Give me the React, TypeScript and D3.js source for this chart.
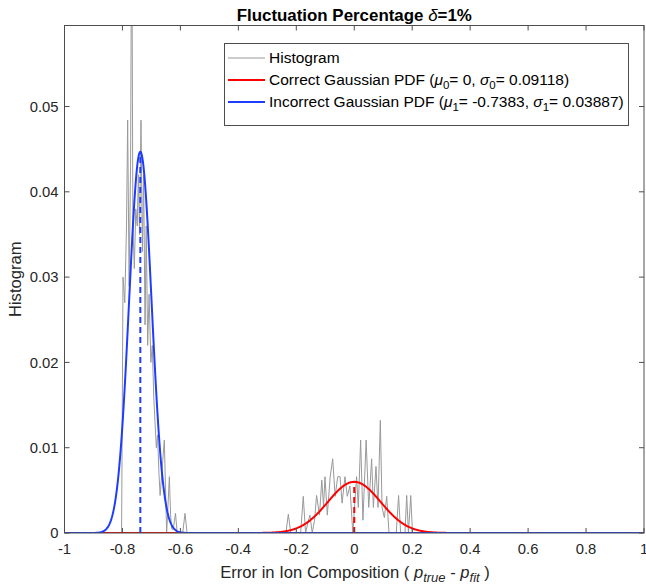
import React from 'react';
import * as d3 from 'd3';

// ---- data ----
const X_TICKS = [-1, -0.8, -0.6, -0.4, -0.2, 0, 0.2, 0.4, 0.6, 0.8, 1];
const X_TICK_LABELS = ['-1', '-0.8', '-0.6', '-0.4', '-0.2', '0', '0.2', '0.4', '0.6', '0.8', '1'];
const Y_TICKS = [0, 0.01, 0.02, 0.03, 0.04, 0.05];
const Y_TICK_LABELS = ['0', '0.01', '0.02', '0.03', '0.04', '0.05'];

const histX = [
  -1, -0.803, -0.798, -0.792, -0.786, -0.782, -0.777, -0.772, -0.768, -0.764,
  -0.759, -0.754, -0.749, -0.745, -0.741, -0.736, -0.731, -0.727, -0.722, -0.718,
  -0.713, -0.708, -0.702, -0.697, -0.692, -0.688, -0.683, -0.679, -0.674, -0.67,
  -0.6555, -0.6475, -0.638, -0.634, -0.63, -0.625, -0.617, -0.611, -0.592, -0.5841,
  -0.577, -0.24, -0.236, -0.2275, -0.219, -0.185, -0.176, -0.168, -0.16, -0.153,
  -0.145, -0.137, -0.13, -0.12, -0.112, -0.106, -0.101, -0.093, -0.083, -0.0744,
  -0.066, -0.057, -0.049, -0.042, -0.032, -0.024, -0.015, -0.005, 0.008, 0.014,
  0.022, 0.03, 0.041, 0.05, 0.06, 0.066, 0.075, 0.082, 0.09, 0.096,
  0.104, 0.112, 0.12, 0.145, 0.153, 0.16, 0.175, 0.181, 0.187, 0.195,
  0.201, 1,
];
const histY = [
  0, 0, 0.03, 0.027, 0.036, 0.0484, 0.029, 0.043, 0.075, 0.036,
  0.031, 0.038, 0.036, 0.042, 0.035, 0.0484, 0.033, 0.042, 0.0244, 0.036,
  0.022, 0.028, 0.02, 0.022, 0.016, 0.0132, 0.01, 0.0115, 0.007, 0.0044,
  0.0109, 0, 0.0066, 0.0022, 0.0005, 0.0004, 0.0023, 0, 0, 0.0023,
  0, 0, 0, 0.0022, 0, 0, 0.0043, 0, 0.0012, 0.0021,
  0, 0.0015, 0.0044, 0.0021, 0.0062, 0.0031, 0.0066, 0.0021, 0.0066, 0.0087,
  0.0043, 0.0066, 0.0066, 0.0035, 0.0066, 0.0043, 0.0055, 0, 0.0066, 0.003,
  0.0109, 0.0015, 0.0109, 0.003, 0.0087, 0.003, 0.0078, 0.003, 0.0132, 0.003,
  0.0018, 0.0043, 0, 0, 0.0044, 0, 0, 0.0044, 0, 0.0044,
  0, 0,
];

const FIT_MU = [0, -0.7383];
const FIT_SIGMA = [0.09118, 0.03887];
const FIT_PEAK = [0.006, 0.0447];

const LEGEND_LABELS = ['Histogram', 'Correct Gaussian PDF', 'Incorrect Gaussian PDF'];

// ---- styles / layout ----
const W = 646;
const H = 588;
const L = 64.5;
const R = 644;
const T = 25.5;
const B = 533;
const FONT = '"Liberation Sans", Arial, Helvetica, sans-serif';
const AXIS_COLOR = '#4d4d4d';
const TEXT_COLOR = '#262626';
const GRAY = '#999999';
const RED = '#ff0000';
const BLUE = '#1e3cff';
const FIT_COLORS = [RED, BLUE];
const TICK_FS = 14.8;
const LABEL_FS = 16.6;
const TITLE_FS = 16.9;
const LEGEND_FS = 15.5;

export default function App() {
  const x = d3.scaleLinear().domain([-1, 1]).range([L, R]);
  const y = d3.scaleLinear().domain([0, 0.0595]).range([B, T]);

  const histPts: [number, number][] = histX.map((v, i) => [v, histY[i]]);
  const lineGen = d3
    .line<[number, number]>()
    .x((d) => x(d[0]))
    .y((d) => y(d[1]));

  const grid = d3.range(-1, 1.00001, 0.002);
  const fitPaths = FIT_MU.map((mu, k) => {
    const pts: [number, number][] = grid.map((v) => [
      v,
      FIT_PEAK[k] * Math.exp(-0.5 * ((v - mu) / FIT_SIGMA[k]) ** 2),
    ]);
    return lineGen(pts) || '';
  });

  const tickLen = 5;
  const legX0 = 224.5;
  const legX1 = 628.5;
  const legY0 = 43.5;
  const legY1 = 125.5;
  const rowY = [58, 80, 102];
  const subSize = 11.5;
  const labelSub = 13;

  return (
    <svg
      width={W}
      height={H}
      style={{ position: 'absolute', left: 0, top: 0, background: '#fff' }}
      fontFamily={FONT}
    >
      <rect x={0} y={0} width={W} height={H} fill="#fff" />
      <defs>
        <clipPath id="plotclip">
          <rect x={L} y={T} width={R - L} height={B - T} />
        </clipPath>
      </defs>

      {/* data */}
      <g clipPath="url(#plotclip)">
        <path d={lineGen(histPts) || ''} fill="none" stroke={GRAY} strokeWidth={1} strokeLinejoin="round" />
        {fitPaths.map((d, k) => (
          <path key={k} d={d} fill="none" stroke={FIT_COLORS[k]} strokeWidth={2} />
        ))}
        {FIT_MU.map((mu, k) => (
          <line
            key={'d' + k}
            x1={x(mu)}
            x2={x(mu)}
            y1={y(0)}
            y2={y(FIT_PEAK[k])}
            stroke={FIT_COLORS[k]}
            strokeWidth={2}
            strokeDasharray="6,4"
          />
        ))}
      </g>

      {/* axes box */}
      <rect x={L} y={T} width={R - L} height={B - T} fill="none" stroke={AXIS_COLOR} strokeWidth={1} />
      {X_TICKS.map((t, i) => (
        <g key={'xt' + i}>
          <line x1={x(t)} x2={x(t)} y1={B} y2={B - tickLen} stroke={AXIS_COLOR} />
          <line x1={x(t)} x2={x(t)} y1={T} y2={T + tickLen} stroke={AXIS_COLOR} />
          <text x={x(t)} y={553.5} textAnchor="middle" fontSize={TICK_FS} fill={TEXT_COLOR}>
            {X_TICK_LABELS[i]}
          </text>
        </g>
      ))}
      {Y_TICKS.map((t, i) => (
        <g key={'yt' + i}>
          <line x1={L} x2={L + tickLen} y1={y(t)} y2={y(t)} stroke={AXIS_COLOR} />
          <line x1={R} x2={R - tickLen} y1={y(t)} y2={y(t)} stroke={AXIS_COLOR} />
          <text x={L - 6} y={y(t)} dy="0.35em" textAnchor="end" fontSize={TICK_FS} fill={TEXT_COLOR}>
            {Y_TICK_LABELS[i]}
          </text>
        </g>
      ))}

      {/* labels */}
      <text x={(L + R) / 2} y={20.5} textAnchor="middle" fontSize={TITLE_FS} fontWeight="bold" fill="#000">
        Fluctuation Percentage <tspan fontStyle="italic" fontWeight="normal">δ</tspan>=1%
      </text>
      <text x={355} y={578} textAnchor="middle" fontSize={LABEL_FS} fill={TEXT_COLOR}>
        Error in Ion Composition ({' '}
        <tspan fontStyle="italic">p</tspan>
        <tspan fontStyle="italic" fontSize={labelSub} dy={4}>true</tspan>
        <tspan dy={-4}> - </tspan>
        <tspan fontStyle="italic">p</tspan>
        <tspan fontStyle="italic" fontSize={labelSub} dy={4}>fit</tspan>
        <tspan dy={-4}> )</tspan>
      </text>
      <text
        transform={`translate(21,${(T + B) / 2}) rotate(-90)`}
        textAnchor="middle"
        fontSize={LABEL_FS}
        fill={TEXT_COLOR}
      >
        Histogram
      </text>

      {/* legend */}
      <rect x={legX0} y={legY0} width={legX1 - legX0} height={legY1 - legY0} fill="#fff" stroke={AXIS_COLOR} strokeWidth={1} />
      {[GRAY, RED, BLUE].map((c, i) => (
        <line key={'ll' + i} x1={228} x2={265} y1={rowY[i]} y2={rowY[i]} stroke={c} strokeWidth={i === 0 ? 1 : 2} />
      ))}
      <text x={269} y={rowY[0]} dy="0.35em" fontSize={LEGEND_FS} fill="#000">
        {LEGEND_LABELS[0]}
      </text>
      <text x={269} y={rowY[1]} dy="0.35em" fontSize={LEGEND_FS} fill="#000">
        {LEGEND_LABELS[1]} (
        <tspan fontStyle="italic">μ</tspan>
        <tspan fontSize={subSize} dy={4}>0</tspan>
        <tspan dy={-4}>= {FIT_MU[0]}, </tspan>
        <tspan fontStyle="italic">σ</tspan>
        <tspan fontSize={subSize} dy={4}>0</tspan>
        <tspan dy={-4}>= {FIT_SIGMA[0]})</tspan>
      </text>
      <text x={269} y={rowY[2]} dy="0.35em" fontSize={LEGEND_FS} fill="#000">
        {LEGEND_LABELS[2]} (
        <tspan fontStyle="italic">μ</tspan>
        <tspan fontSize={subSize} dy={4}>1</tspan>
        <tspan dy={-4}>= {FIT_MU[1]}, </tspan>
        <tspan fontStyle="italic">σ</tspan>
        <tspan fontSize={subSize} dy={4}>1</tspan>
        <tspan dy={-4}>= {FIT_SIGMA[1]})</tspan>
      </text>
    </svg>
  );
}
